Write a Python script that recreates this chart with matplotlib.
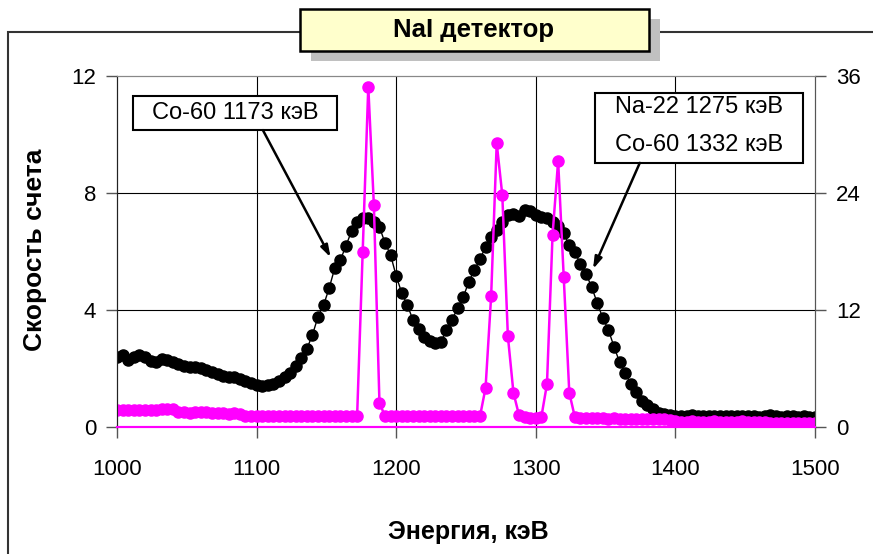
import numpy as np
import matplotlib
matplotlib.use("Agg")
import matplotlib.pyplot as plt
from matplotlib.patches import Rectangle

plt.rcParams['font.family'] = ['Liberation Sans', 'DejaVu Sans']

# channel energies, keV (4 keV per channel)
energy = np.arange(1000, 1501, 4)

# broad NaI spectrum (left axis)
nai_counts = [
    2.39, 2.46, 2.29, 2.39, 2.46, 2.39, 2.26, 2.22, 2.32, 2.29,
    2.22, 2.15, 2.09, 2.05, 2.05, 2.02, 1.95, 1.88, 1.81, 1.74,
    1.71, 1.71, 1.64, 1.57, 1.50, 1.44, 1.40, 1.44, 1.47, 1.57,
    1.71, 1.85, 2.08, 2.36, 2.67, 3.15, 3.77, 4.17, 4.75, 5.44,
    5.71, 6.19, 6.70, 7.01, 7.15, 7.15, 7.01, 6.84, 6.29, 5.88,
    5.16, 4.58, 4.17, 3.66, 3.35, 3.08, 2.94, 2.87, 2.91, 3.30,
    3.66, 4.07, 4.44, 4.96, 5.37, 5.74, 6.15, 6.50, 6.74, 7.01,
    7.25, 7.28, 7.21, 7.42, 7.38, 7.25, 7.19, 7.15, 7.01, 6.86,
    6.62, 6.22, 5.98, 5.57, 5.23, 4.79, 4.24, 3.73, 3.32, 2.75,
    2.22, 1.85, 1.47, 1.20, 0.89, 0.75, 0.62, 0.48, 0.43, 0.41,
    0.38, 0.38, 0.36, 0.40, 0.37, 0.38, 0.36, 0.37, 0.38, 0.36,
    0.37, 0.36, 0.37, 0.38, 0.36, 0.35, 0.37, 0.40, 0.36, 0.35,
    0.36, 0.38, 0.35, 0.36, 0.34, 0.35,
]

# narrow peaks (right axis)
ge_counts = [
    1.75, 1.72, 1.75, 1.74, 1.76, 1.72, 1.75, 1.70, 1.80, 1.85,
    1.82, 1.55, 1.50, 1.48, 1.50, 1.52, 1.55, 1.45, 1.40, 1.42,
    1.38, 1.42, 1.36, 1.10, 1.08, 1.10, 1.09, 1.10, 1.08, 1.10,
    1.09, 1.10, 1.08, 1.10, 1.09, 1.10, 1.08, 1.10, 1.09, 1.10,
    1.08, 1.10, 1.09, 1.10, 18.0, 34.9, 22.8, 2.5, 1.08, 1.10,
    1.08, 1.09, 1.10, 1.08, 1.08, 1.10, 1.09, 1.08, 1.10, 1.08,
    1.09, 1.08, 1.10, 1.08, 1.09, 1.08, 4.0, 13.4, 29.1, 23.8,
    9.3, 3.5, 1.2, 1.0, 0.95, 0.95, 1.05, 4.4, 19.7, 27.3,
    15.4, 3.5, 1.0, 0.92, 0.90, 0.92, 0.88, 0.90, 0.85, 0.88,
    0.86, 0.85, 0.84, 0.82, 0.85, 0.80, 0.82, 0.78, 0.80, 0.75,
    0.60, 0.55, 0.50, 0.58, 0.55, 0.52, 0.55, 0.58, 0.55, 0.55,
    0.52, 0.55, 0.58, 0.55, 0.50, 0.52, 0.48, 0.45, 0.42, 0.45,
    0.40, 0.42, 0.45, 0.40, 0.42, 0.40,
]

left_ticks = [0, 4, 8, 12]
right_ticks = [0, 12, 24, 36]
x_ticks = [1000, 1100, 1200, 1300, 1400, 1500]

W, H = 873, 554
fig = plt.figure(figsize=(W / 100, H / 100), dpi=100)

def px(x, y):
    return x / W, 1 - y / H

# outer chart frame (runs off the right and bottom edges)
fig.add_artist(Rectangle(px(8, H + 20), 2, (H - 32 + 20) / H, transform=fig.transFigure,
                         fill=False, ec='#333333', lw=1.5))

ax = fig.add_axes([117 / W, 1 - 427 / H, (815 - 117) / W, (427 - 76) / H])
ax2 = ax.twinx()

ax.plot(energy, nai_counts, color='black', lw=1, marker='o', ms=8, mfc='black', mec='black')
ax2.plot(energy, ge_counts, color='#FF00FF', lw=1.8, marker='o', ms=8, mfc='#FF00FF', mec='#FF00FF')

ax.set_xlim(1000, 1500)
ax.set_ylim(0, 12)
ax2.set_ylim(0, 36)
ax.set_xticks(x_ticks)
ax.set_yticks(left_ticks)
ax2.set_yticks(right_ticks)

ax.grid(True, color='black', lw=0.8)
for t in ax.yaxis.get_major_ticks()[::3]:
    t.gridline.set_visible(False)
for t in ax.xaxis.get_major_ticks()[::5]:
    t.gridline.set_visible(False)

ax.tick_params(axis='both', direction='out', length=8, width=1, color='#555555', labelsize=16)
ax.tick_params(axis='x', pad=15)
ax.tick_params(axis='y', pad=7)
ax2.tick_params(axis='y', direction='out', length=8, width=1, color='#555555', labelsize=16, pad=7)

for a in (ax, ax2):
    a.spines['top'].set_color('#888888')
    a.spines['right'].set_color('#555555')
    a.spines['left'].set_color('#222222')
    a.spines['bottom'].set_color('#FF00FF')
    a.spines['bottom'].set_linewidth(1.5)

ax.set_ylabel('Скорость счета', fontsize=19, fontweight='bold')
ax.yaxis.set_label_coords(-0.100, 0.504)
ax.set_xlabel('Энергия, кэВ', fontsize=18, fontweight='bold')
ax.xaxis.set_label_coords(0.503, -0.265)

# labels with arrows
ax.add_patch(Rectangle((1011.5, 10.15), 146.1, 1.17, fc='white', ec='black', lw=1.5, zorder=5))
ax.text(1084.5, 10.73, 'Co-60 1173 кэВ', fontsize=17, ha='center', va='center', zorder=6)
ax.add_patch(Rectangle((1342.4, 9.03), 149.0, 2.39, fc='white', ec='black', lw=1.5, zorder=5))
ax.text(1416.9, 10.94, 'Na-22 1275 кэВ', fontsize=17, ha='center', va='center', zorder=6)
ax.text(1416.9, 9.64, 'Co-60 1332 кэВ', fontsize=17, ha='center', va='center', zorder=6)
arrow = dict(arrowstyle='-|>,head_length=0.7,head_width=0.22', color='black', lw=1.8, shrinkA=0, shrinkB=0)
ax.annotate('', xy=(1153, 5.8), xytext=(1104.5, 10.15), arrowprops=arrow, zorder=5)
ax.annotate('', xy=(1341, 5.4), xytext=(1374.5, 9.03), arrowprops=arrow, zorder=5)

# title box with shadow
fig.add_artist(Rectangle(px(311, 61), 349 / W, 42 / H, transform=fig.transFigure,
                         fc='#C0C0C0', ec='none'))
fig.add_artist(Rectangle(px(300, 51), 349 / W, 42 / H, transform=fig.transFigure,
                         fc='#FFFFCC', ec='black', lw=1.8))
fig.text(*px(474, 30), 'NaI детектор', fontsize=18.5, fontweight='bold', ha='center', va='center')

fig.savefig('out.png', dpi=100)
